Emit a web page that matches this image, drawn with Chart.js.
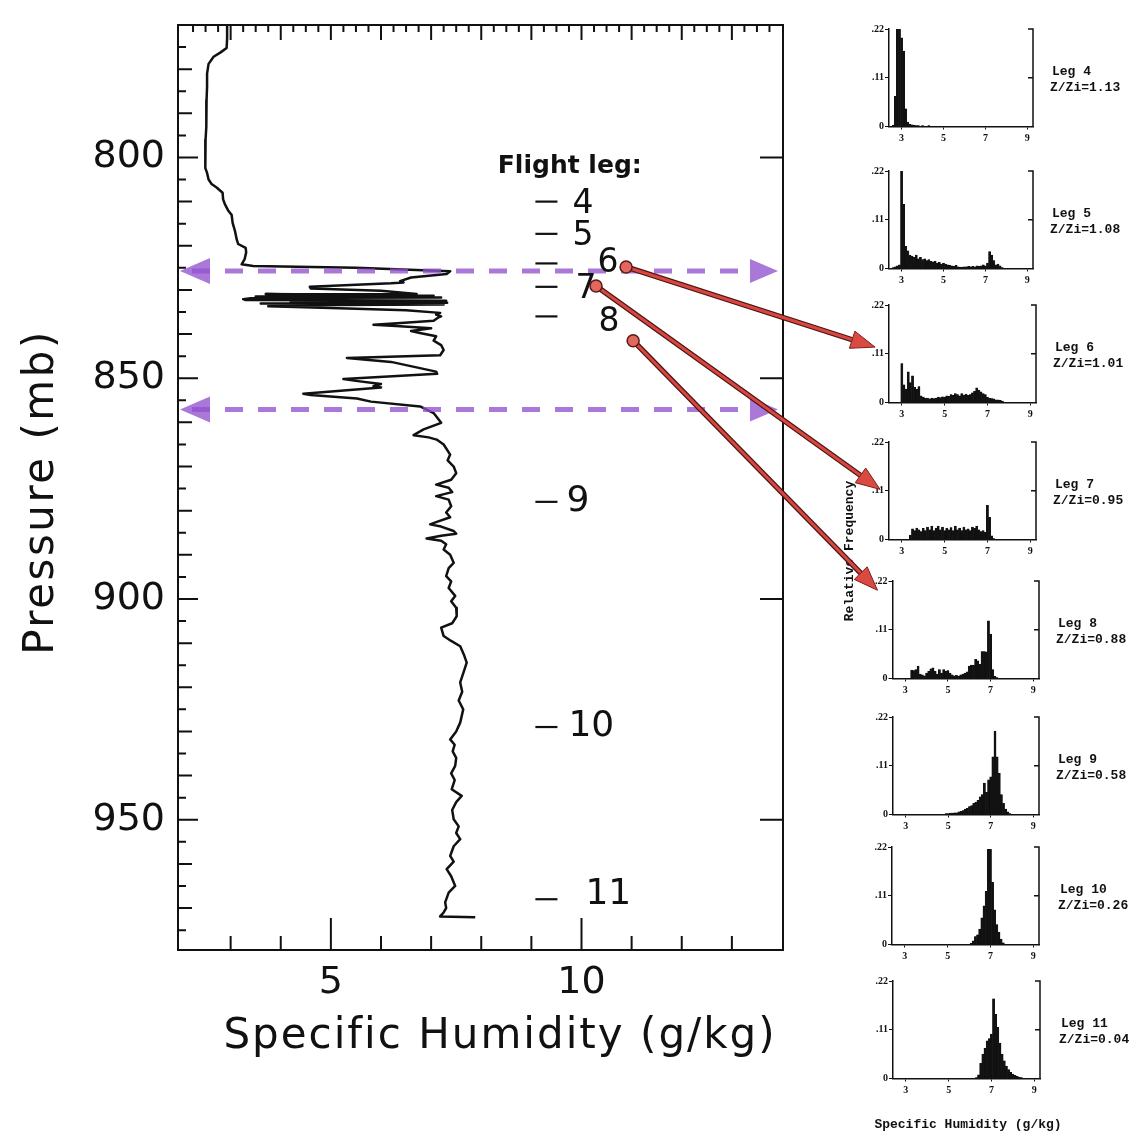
<!DOCTYPE html>
<html>
<head>
<meta charset="utf-8">
<script src="https://cdn.jsdelivr.net/npm/chart.js@4.4.1/dist/chart.umd.min.js"></script>
<style>
  html, body { margin: 0; padding: 0; background: #fff; }
  body { position: relative; width: 1144px; height: 1141px; overflow: hidden; }
  canvas { position: absolute; }
  .note { position: absolute; font: bold 13px "Liberation Mono", monospace; color: #111; white-space: nowrap; }
  #relFreq { left: 849px; top: 551px; transform: translate(-50%, -50%) rotate(-90deg); }
  #histTitle { left: 968px; top: 1124px; transform: translate(-50%, -50%); }
</style>
</head>
<body>
<canvas id="profile" width="800" height="1141" style="left:0;top:0"></canvas>
<div class="note" id="relFreq">Relative Frequency</div>
<div class="note" id="histTitle">Specific Humidity (g/kg)</div>
<canvas id="overlay" width="1144" height="1141" style="left:0;top:0;z-index:5;pointer-events:none"></canvas>

<script>
// ---- humidity profile (g/kg vs mb) ----
const profileQ = [
  2.93, 2.93, 2.92, 2.80, 2.66, 2.56, 2.53, 2.53, 2.52, 2.51, 2.52, 2.50, 2.50, 2.49, 2.53, 2.56, 2.62, 2.72, 2.84, 2.85,
  2.89, 2.95, 3.02, 3.04, 3.09, 3.12, 3.15, 3.30, 3.31, 3.28, 3.22, 3.45, 5.50, 7.38,
  7.31, 6.60, 6.38, 6.45, 6.20, 4.58, 4.60, 6.00,
  6.71, 4.00, 3.70, 5.50, 7.05, 4.80, 3.50, 6.20, 7.20, 5.00, 3.40, 3.25, 3.30, 5.20, 7.30, 6.00, 4.20, 6.80, 7.32, 5.60,
  3.60, 5.80, 7.25, 5.00, 3.90, 3.75, 5.00, 6.50, 7.18,
  7.10, 7.20,
  7.15, 7.05, 6.40, 5.85, 6.30, 7.00, 6.60, 6.80, 7.10, 7.05, 7.20, 7.25, 7.18, 5.32, 6.20, 7.10,
  7.12, 5.25, 5.50, 6.00, 5.85, 6.00, 4.45, 4.60, 5.52, 5.80, 6.78, 7.05, 7.20,
  6.85, 6.65, 6.95, 7.11, 7.25, 7.38, 7.33, 7.45, 7.50, 7.40, 7.10, 7.35, 7.42, 7.10, 7.35, 7.40,
  7.30, 7.38, 7.10, 6.98, 7.20, 7.45, 7.50, 7.20, 6.91, 7.20, 7.30, 7.25, 7.38, 7.45, 7.35, 7.30, 7.40, 7.35, 7.48, 7.40,
  7.50, 7.51, 7.42, 7.20, 7.25, 7.40, 7.58, 7.65, 7.71, 7.65, 7.58, 7.62, 7.55, 7.64, 7.58, 7.50, 7.38, 7.47, 7.43, 7.50,
  7.48, 7.40, 7.47, 7.41, 7.61, 7.50, 7.42, 7.45, 7.55, 7.50, 7.58, 7.45, 7.38, 7.45, 7.31, 7.40, 7.48, 7.35, 7.28, 7.30,
  7.25, 7.18, 7.88
];
const profileP = [
  770.0, 773.0, 775.2, 776.2, 777.2, 778.8, 781.0, 784.0, 787.0, 790.0, 793.0, 796.0, 799.0, 802.4, 803.5, 805.0, 806.0, 806.8, 808.0, 809.5,
  810.7, 812.0, 813.0, 814.8, 816.8, 818.5, 819.6, 820.5, 821.5, 823.0, 824.2, 824.6, 825.0, 825.8,
  826.4, 827.2, 828.0, 828.3, 828.5, 829.3, 829.7, 830.2,
  830.9, 831.0, 830.9, 831.1, 831.3, 831.4, 831.5, 831.6, 831.7, 831.8, 831.9, 832.1, 832.3, 832.35, 832.45, 832.55, 832.65, 832.8, 832.9, 833.0,
  833.1, 833.2, 833.3, 833.4, 833.5, 833.7, 834.1, 834.6, 835.2,
  835.6, 836.0,
  836.2, 837.0, 837.5, 837.9, 838.2, 838.7, 839.3, 839.8, 840.5, 841.5, 842.5, 843.6, 844.8, 845.4, 846.3, 848.5,
  849.0, 850.2, 850.6, 851.3, 851.8, 852.1, 853.5, 853.8, 854.6, 855.3, 856.4, 857.9, 860.1,
  861.6, 862.9, 863.4, 863.9, 865.0, 867.3, 868.6, 870.0, 871.5, 873.0, 874.1, 874.8, 875.8, 876.7, 877.5, 879.0,
  880.4, 881.5, 882.6, 883.1, 883.6, 884.6, 885.2, 885.7, 886.3, 886.8, 887.6, 888.8, 890.0, 891.8, 893.0, 894.8, 896.0, 897.5, 899.3, 900.5,
  902.0, 903.9, 905.5, 906.5, 908.4, 909.5, 910.7, 912.5, 914.4, 916.5, 918.9, 921.0, 923.0, 925.0, 928.0, 930.0, 931.8, 933.0, 934.5, 936.0,
  937.8, 939.5, 941.0, 943.1, 944.6, 946.0, 947.8, 949.9, 951.5, 953.0, 954.4, 956.0, 958.2, 959.5, 961.2, 962.8, 965.0, 966.5, 968.7, 970.0,
  971.0, 971.9, 972.1
];
const qTickLabels = [5, 10];
const pTickLabels = [800, 850, 900, 950];

// flight legs: level of each leg on the profile, and its Z/Zi
const legNames = ['4', '5', '6', '7', '8', '9', '10', '11'];
const legPressure = [810, 817.3, 824, 829.3, 836, 878, 929, 968];
const legZRatio = ['1.13', '1.08', '1.01', '0.95', '0.88', '0.58', '0.26', '0.04'];
const layerBounds = [825.7, 857.1];

// ---- per-leg humidity histograms ----
const binCenters = [
  2.6, 2.7, 2.8, 2.9, 3.0, 3.1, 3.2, 3.3, 3.4, 3.5, 3.6, 3.7, 3.8, 3.9, 4.0, 4.1, 4.2, 4.3, 4.4, 4.5,
  4.6, 4.7, 4.8, 4.9, 5.0, 5.1, 5.2, 5.3, 5.4, 5.5, 5.6, 5.7, 5.8, 5.9, 6.0, 6.1, 6.2, 6.3, 6.4, 6.5,
  6.6, 6.7, 6.8, 6.9, 7.0, 7.1, 7.2, 7.3, 7.4, 7.5, 7.6, 7.7, 7.8, 7.9, 8.0, 8.1, 8.2, 8.3, 8.4, 8.5
];
const leg4Freq = [
  .003, .068, .22, .22, .2, .17, .04, .01, .005, .004, .003, .002, .002, .001, .002, .001, .001, .002, .001, .001,
  0, 0, 0, 0, 0, 0, 0, 0, 0, 0, 0, 0, 0, 0, 0, 0, 0, 0, 0, 0,
  0, 0, 0, 0, 0, 0, 0, 0, 0, 0, 0, 0, 0, 0, 0, 0, 0, 0, 0, 0
];
const leg5Freq = [
  .002, .004, .006, .008, .22, .145, .05, .04, .03, .028, .025, .03, .022, .025, .02, .022, .018, .02, .016, .015,
  .016, .012, .014, .01, .012, .01, .008, .007, .006, .005, .007, .004, .003, .003, .004, .004, .005, .004, .005, .004,
  .006, .005, .006, .008, .006, .012, .038, .03, .018, .008, .01, .006, .002, 0, 0, 0, 0, 0, 0, 0
];
const leg6Freq = [
  0, 0, 0, 0, .088, .04, .03, .069, .045, .06, .035, .03, .036, .015, .012, .01, .01, .008, .01, .009,
  .01, .012, .011, .013, .012, .015, .014, .018, .016, .02, .018, .015, .02, .017, .019, .016, .018, .022, .025, .033,
  .028, .024, .02, .018, .012, .01, .009, .008, .006, .006, .005, .003, .001, 0, 0, 0, 0, 0, 0, 0
];
const leg7Freq = [
  0, 0, 0, 0, 0, 0, 0, 0, .01, .024, .02, .026, .022, .018, .025, .02, .028, .022, .03, .02,
  .026, .03, .022, .028, .02, .025, .022, .027, .02, .03, .022, .026, .02, .028, .022, .024, .02, .028, .025, .03,
  .022, .018, .02, .016, .077, .05, .008, .002, 0, 0, 0, 0, 0, 0, 0, 0, 0, 0, 0, 0
];
const leg8Freq = [
  0, 0, 0, 0, 0, 0, 0, .019, .018, .02, .028, .01, .008, .006, .012, .016, .022, .024, .016, .01,
  .02, .012, .02, .017, .018, .012, .008, .006, .007, .005, .008, .01, .012, .015, .028, .03, .03, .043, .04, .032,
  .061, .061, .06, .13, .1, .02, .005, .002, 0, 0, 0, 0, 0, 0, 0, 0, 0, 0, 0, 0
];
const leg9Freq = [
  0, 0, 0, 0, 0, 0, 0, 0, 0, 0, 0, 0, 0, 0, 0, 0, 0, 0, 0, 0,
  0, 0, 0, .002, .002, .003, .003, .004, .004, .006, .007, .009, .012, .014, .018, .02, .025, .028, .032, .04,
  .045, .071, .05, .078, .085, .13, .188, .13, .093, .045, .025, .012, .006, .002, 0, 0, 0, 0, 0, 0
];
const leg10Freq = [
  0, 0, 0, 0, 0, 0, 0, 0, 0, 0, 0, 0, 0, 0, 0, 0, 0, 0, 0, 0,
  0, 0, 0, 0, 0, 0, 0, 0, 0, 0, 0, 0, 0, 0, .001, .003, .008, .018, .022, .035,
  .06, .087, .12, .215, .215, .14, .078, .045, .028, .012, .004, .001, 0, 0, 0, 0, 0, 0, 0, 0
];
const leg11Freq = [
  0, 0, 0, 0, 0, 0, 0, 0, 0, 0, 0, 0, 0, 0, 0, 0, 0, 0, 0, 0,
  0, 0, 0, 0, 0, 0, 0, 0, 0, 0, 0, 0, 0, 0, 0, 0, 0, .002, .008, .034,
  .055, .068, .085, .09, .1, .18, .145, .116, .08, .055, .04, .028, .02, .014, .01, .007, .005, .003, .002, .001
];
const legFreq = [leg4Freq, leg5Freq, leg6Freq, leg7Freq, leg8Freq, leg9Freq, leg10Freq, leg11Freq];
const histTicksQ = [3, 5, 7, 9];
const histTicksF = [0, 0.11, 0.22];

// arrows from the profile levels to the matching histograms
const arrowPanel = [2, 3, 4];
const arrowFromQ = [10.89, 10.29, 11.03];
const arrowFromP = [824.8, 829.1, 841.5];
const arrowToF = [0.125, 0.112, 0.198];

// layout (px)
const panelTop = [29, 170.5, 305, 441.5, 580.5, 716.5, 847, 980.5];
const panelLeft = [889, 889, 889, 889, 892.5, 893, 892, 893];
const panelRight = [1033, 1033, 1036, 1036, 1039, 1039, 1039, 1040];
const panelHeight = 97.5;
const arrowTipDx = [-14, -9, -15];
const legNumDx = [15, 15, 40, 18, 41, 9, 11, 28];
const legNumDy = [3, 3, 0, 3, 6, 0, 0, -5];

const INK = '#111';
const FONT = '"DejaVu Sans", sans-serif';

// box with inward ticks on all four sides
const frameTicks = {
  id: 'frameTicks',
  afterDatasetsDraw(chart) {
    const { ctx, chartArea: a, scales: { x, y } } = chart;
    ctx.save();
    ctx.strokeStyle = INK;
    ctx.lineWidth = 2;
    ctx.strokeRect(a.left, a.top, a.right - a.left, a.bottom - a.top);
    ctx.beginPath();
    for (let p = 775; p <= 975; p += 5) {
      const py = y.getPixelForValue(p);
      const len = p % 50 === 0 ? 20 : (p % 10 === 0 ? 14 : 8);
      ctx.moveTo(a.left, py); ctx.lineTo(a.left + len, py);
    }
    pTickLabels.forEach(p => {
      const py = y.getPixelForValue(p);
      ctx.moveTo(a.right, py); ctx.lineTo(a.right - 23, py);
    });
    for (let q = 3; q <= 13; q++) {
      const px = x.getPixelForValue(q);
      ctx.moveTo(px, a.bottom); ctx.lineTo(px, a.bottom - (q % 5 === 0 ? 32 : 14));
    }
    for (let q = 2; q <= 14; q += 0.25) {
      const px = x.getPixelForValue(q);
      if (px < a.left + 3 || px > a.right - 3) continue;
      ctx.moveTo(px, a.top); ctx.lineTo(px, a.top + (Number.isInteger(q) ? 15 : 7));
    }
    ctx.stroke();
    ctx.restore();
  }
};

// dashed double-headed arrows marking the entrainment layer
const layerArrows = {
  id: 'layerArrows',
  afterDatasetsDraw(chart) {
    const { ctx, chartArea: a, scales: { y } } = chart;
    ctx.save();
    ctx.fillStyle = ctx.strokeStyle = 'rgba(146, 82, 206, 0.78)';
    layerBounds.forEach(p => {
      const py = y.getPixelForValue(p);
      ctx.lineWidth = 5;
      ctx.setLineDash([18, 15]);
      ctx.beginPath(); ctx.moveTo(a.left + 14, py); ctx.lineTo(a.right - 30, py); ctx.stroke();
      ctx.setLineDash([]);
      ctx.beginPath();
      ctx.moveTo(a.left + 2, py); ctx.lineTo(a.left + 32, py - 13); ctx.lineTo(a.left + 32, py + 13);
      ctx.closePath(); ctx.fill();
      ctx.beginPath();
      ctx.moveTo(a.right - 5, py); ctx.lineTo(a.right - 33, py - 12); ctx.lineTo(a.right - 33, py + 12);
      ctx.closePath(); ctx.fill();
    });
    ctx.restore();
  }
};

// axis titles and the flight-leg scale
const profileText = {
  id: 'profileText',
  afterDraw(chart) {
    const { ctx, scales: { x, y } } = chart;
    ctx.save();
    ctx.fillStyle = INK;
    ctx.textBaseline = 'middle';
    ctx.textAlign = 'center';
    ctx.font = '42px ' + FONT;
    ctx.letterSpacing = '2px';
    ctx.fillText('Specific Humidity (g/kg)', 500, 1037);
    ctx.save();
    ctx.translate(42, 492);
    ctx.rotate(-Math.PI / 2);
    ctx.letterSpacing = '2.5px';
    ctx.fillText('Pressure (mb)', 0, 0);
    ctx.restore();
    ctx.letterSpacing = '0px';

    ctx.textAlign = 'left';
    ctx.font = 'bold 25px ' + FONT;
    ctx.fillText('Flight leg:', x.getPixelForValue(8.33), y.getPixelForValue(802.1));

    const d0 = x.getPixelForValue(9.08), d1 = x.getPixelForValue(9.52);
    ctx.lineWidth = 2.2;
    ctx.strokeStyle = INK;
    legNames.forEach((name, i) => {
      const py = y.getPixelForValue(legPressure[i]);
      ctx.beginPath(); ctx.moveTo(d0, py); ctx.lineTo(d1, py); ctx.stroke();
      ctx.font = (i >= 5 ? '36px ' : '33px ') + FONT;
      ctx.fillText(name, d1 + legNumDx[i], py + legNumDy[i]);
    });
    ctx.restore();
  }
};

const profileChart = new Chart(document.getElementById('profile'), {
  type: 'scatter',
  data: {
    datasets: [{
      data: profileQ.map((q, i) => ({ x: q, y: profileP[i] })),
      showLine: true,
      borderColor: INK,
      borderWidth: 2.5,
      borderJoinStyle: 'round',
      pointRadius: 0,
      tension: 0
    }]
  },
  options: {
    responsive: false,
    animation: false,
    events: [],
    layout: { padding: { top: 25, right: 17, left: 0, bottom: 0 } },
    plugins: { legend: { display: false }, tooltip: { enabled: false } },
    scales: {
      x: {
        type: 'linear', min: 1.95, max: 14.02,
        afterBuildTicks: s => { s.ticks = qTickLabels.map(v => ({ value: v })); },
        afterFit: s => { s.height = 191; s.paddingLeft = 0; s.paddingRight = 0; },
        grid: { display: false, drawTicks: false },
        border: { display: false },
        ticks: { color: INK, font: { family: FONT, size: 38 }, padding: 10, maxRotation: 0 }
      },
      y: {
        type: 'linear', reverse: true, min: 770, max: 979.5,
        afterBuildTicks: s => { s.ticks = pTickLabels.map(v => ({ value: v })); },
        afterFit: s => { s.width = 178; s.paddingTop = 0; s.paddingBottom = 0; },
        grid: { display: false, drawTicks: false },
        border: { display: false },
        ticks: { color: INK, font: { family: FONT, size: 38 }, padding: 13 }
      }
    }
  },
  plugins: [frameTicks, layerArrows, profileText]
});

// right-hand bracket axis and leg caption of each histogram
const panelDecor = {
  id: 'panelDecor',
  afterDraw(chart) {
    const { ctx, chartArea: a } = chart;
    const k = chart.options.plugins.panelDecor.leg;
    const mid = chart.scales.y.getPixelForValue(0.11);
    ctx.save();
    ctx.strokeStyle = INK;
    ctx.lineWidth = 1.5;
    ctx.beginPath();
    ctx.moveTo(a.right - 5, a.top); ctx.lineTo(a.right, a.top); ctx.lineTo(a.right, a.bottom);
    ctx.moveTo(a.right - 5, mid); ctx.lineTo(a.right, mid);
    ctx.stroke();
    ctx.fillStyle = INK;
    ctx.font = 'bold 13px "Liberation Mono", monospace';
    ctx.textBaseline = 'middle';
    const lx = a.right + (k >= 6 ? 19 : 17);
    ctx.fillText('Leg ' + legNames[k], lx + 2, a.top + 43);
    ctx.fillText('Z/Zi=' + legZRatio[k], lx, a.top + 59);
    ctx.restore();
  }
};

const panelCharts = legFreq.map((freq, k) => {
  const canvas = document.createElement('canvas');
  const left = 850, width = 292, top = panelTop[k] - 10, height = 132;
  canvas.width = width;
  canvas.height = height;
  canvas.style.left = left + 'px';
  canvas.style.top = top + 'px';
  document.body.insertBefore(canvas, document.getElementById('relFreq'));
  const tickFont = { family: '"Liberation Serif", serif', size: 10, weight: 'bold' };
  return new Chart(canvas, {
    type: 'bar',
    data: {
      datasets: [{
        data: binCenters.map((b, i) => ({ x: b, y: freq[i] })),
        backgroundColor: INK,
        borderColor: INK,
        borderWidth: 0.4,
        barPercentage: 1,
        categoryPercentage: 1
      }]
    },
    options: {
      responsive: false,
      animation: false,
      events: [],
      layout: { padding: { top: 10, left: 0, bottom: 0, right: width - (panelRight[k] - left) } },
      plugins: { legend: { display: false }, tooltip: { enabled: false }, panelDecor: { leg: k } },
      scales: {
        x: {
          type: 'linear', min: 2.4, max: 9.27, offset: false,
          afterBuildTicks: s => { s.ticks = histTicksQ.map(v => ({ value: v })); },
          afterFit: s => { s.height = height - 10 - panelHeight; s.paddingLeft = 0; s.paddingRight = 0; },
          grid: { drawOnChartArea: false, drawTicks: true, tickLength: 3, color: INK, offset: false },
          border: { display: true, color: INK, width: 1.5 },
          ticks: { color: INK, font: tickFont, padding: 3, maxRotation: 0, autoSkip: false, callback: v => String(v) }
        },
        y: {
          min: 0, max: 0.22,
          afterBuildTicks: s => { s.ticks = histTicksF.map(v => ({ value: v })); },
          afterFit: s => { s.width = panelLeft[k] - left; s.paddingTop = 0; s.paddingBottom = 0; },
          grid: { drawOnChartArea: false, drawTicks: true, tickLength: 4, color: INK },
          border: { display: true, color: INK, width: 1.5 },
          ticks: { color: INK, font: tickFont, padding: 1, callback: v => (v === 0 ? '0' : v.toFixed(2).replace(/^0/, '')) }
        }
      }
    },
    plugins: [panelDecor]
  });
});

// red arrows linking profile levels with histograms
function drawLink(ctx, x0, y0, x1, y1) {
  const ang = Math.atan2(y1 - y0, x1 - x0);
  const c = Math.cos(ang), s = Math.sin(ang);
  const headLen = 24, headHalf = 9;
  const bx = x1 - headLen * c, by = y1 - headLen * s;
  ctx.lineCap = 'butt';
  ctx.strokeStyle = '#4a1414';
  ctx.lineWidth = 5.5;
  ctx.beginPath(); ctx.moveTo(x0, y0); ctx.lineTo(bx, by); ctx.stroke();
  ctx.strokeStyle = '#d8473f';
  ctx.lineWidth = 3;
  ctx.beginPath(); ctx.moveTo(x0, y0); ctx.lineTo(bx + c, by + s); ctx.stroke();
  ctx.beginPath();
  ctx.moveTo(x1, y1);
  ctx.lineTo(bx + headHalf * s, by - headHalf * c);
  ctx.lineTo(bx - headHalf * s, by + headHalf * c);
  ctx.closePath();
  ctx.fillStyle = '#db4a40';
  ctx.fill();
  ctx.strokeStyle = '#7a2020';
  ctx.lineWidth = 1;
  ctx.stroke();
  ctx.beginPath();
  ctx.arc(x0, y0, 6, 0, Math.PI * 2);
  ctx.fillStyle = '#e2675c';
  ctx.fill();
  ctx.strokeStyle = '#5a1a1a';
  ctx.lineWidth = 1.5;
  ctx.stroke();
}

const overlay = document.getElementById('overlay').getContext('2d');
arrowPanel.forEach((k, i) => {
  const src = profileChart.scales;
  const dst = panelCharts[k];
  const dstTop = panelTop[k] - 10;
  const x0 = src.x.getPixelForValue(arrowFromQ[i]);
  const y0 = src.y.getPixelForValue(arrowFromP[i]);
  const x1 = 850 + dst.chartArea.left + arrowTipDx[i];
  const y1 = dstTop + dst.scales.y.getPixelForValue(arrowToF[i]);
  drawLink(overlay, x0, y0, x1, y1);
});
</script>
</body>
</html>
